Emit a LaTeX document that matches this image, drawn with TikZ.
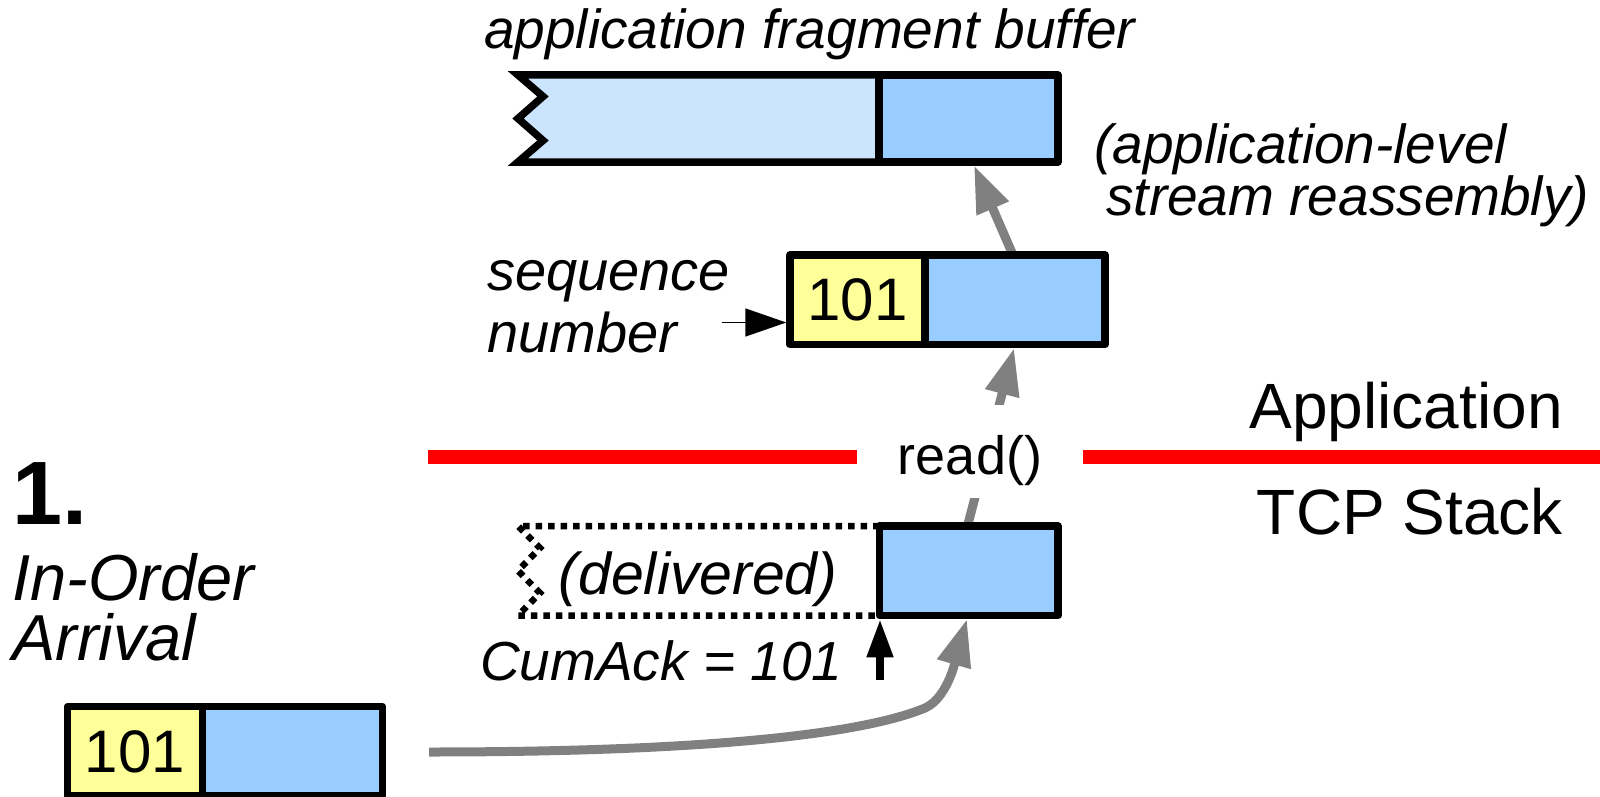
\documentclass[tikz,border=0pt]{standalone}
\usepackage{fontspec}
\setmainfont{Liberation Sans}
\usetikzlibrary{arrows.meta,backgrounds}
\definecolor{segyellow}{HTML}{FFFF99}
\definecolor{segblue}{HTML}{99CCFF}
\definecolor{buflight}{HTML}{CCE5FF}
\definecolor{arrowgray}{HTML}{808080}
\definecolor{layerred}{HTML}{FF0000}
\begin{document}
\begin{tikzpicture}[x=1pt,y=-1pt,
  cell/.style={draw=black,line width=7.5pt,line join=round,inner sep=0pt,outer sep=0pt,minimum height=89.5pt},
  seqcell/.style={cell,fill=segyellow,font=\fontsize{60}{72}\selectfont},
  datacell/.style={cell,fill=segblue},
  lbl/.style={inner sep=0pt,font=\fontsize{55}{62}\selectfont\itshape},
  bigl/.style={inner sep=0pt,font=\fontsize{64}{74}\selectfont},
  grayarrow/.style={draw=arrowgray,line width=9pt,-{Triangle[length=47pt,width=33pt]}},
  thinarrow/.style={draw=black,line width=1.5pt,-{Triangle[length=41pt,width=28pt]}},
  ackarrow/.style={draw=black,line width=7.5pt,-{Triangle[length=38pt,width=25pt]}},
  redline/.style={draw=layerred,line width=14pt},
  dots/.style={draw=black,line width=6.5pt,dash pattern=on 6.5pt off 6pt},
]
\useasboundingbox (0,0) rectangle (1600,797);

% top application fragment buffer
\node[datacell,minimum width=179pt,minimum height=87pt] (bufdata) at (968.5,118.5) {};
\node[lbl,anchor=base west] (buflabel) at (484,49) {application fragment buffer};
\node[lbl,font=\fontsize{55}{52}\selectfont\itshape,align=left,anchor=base west] (reasm) at (1094,215) {(application-level\\\hspace*{12pt}stream reassembly)};

% segment read by the application
\node[seqcell,minimum width=135pt] (seqtop) at (857.5,299.75) {101};
\node[datacell,minimum width=180pt] (datatop) at (1015,299.75) {};
\node[lbl,font=\fontsize{56}{62}\selectfont\itshape,align=left,anchor=base west] (seqlabel) at (487,352) {sequence\\number};
\coordinate (seqtail) at (722,322.5);

% layer boundary
\node[font=\fontsize{54}{62}\selectfont,fill=white,inner xsep=41pt,inner ysep=0pt,text height=69pt,text depth=24pt,anchor=base] (read) at (970,474) {read()};
\node[bigl,anchor=base east] (applbl) at (1563,428) {Application};
\node[bigl,anchor=base east] (tcplbl) at (1563,534) {TCP Stack};
\coordinate (redstart) at (428,457);
\coordinate (redend) at (1600,457);

% TCP receive buffer
\node[datacell,minimum width=178.5pt] (dbox) at (968.75,570.75) {};
\node[lbl,font=\fontsize{59}{62}\selectfont\itshape] (delivered) at (698,579) {(delivered)};
\node[lbl,anchor=base west] (cumack) at (480,680) {CumAck = 101};
\coordinate (acktail) at (880,680);

% arriving segment
\node[seqcell,minimum width=135pt] (seqbot) at (135,751.45) {101};
\node[datacell,minimum width=180pt] (databot) at (292.5,751.45) {};
\coordinate (curvetail) at (429,752);

\node[inner sep=0pt,font=\fontsize{90}{100}\selectfont\bfseries,anchor=base west] (num) at (12,524) {1.};
\node[inner sep=0pt,font=\fontsize{65}{60}\selectfont\itshape,align=left,anchor=base west] (inorder) at (12,660) {In-Order\\Arrival};

\begin{pgfonlayer}{background}
  \filldraw[fill=buflight,draw=black,line width=7.5pt,line join=miter]
    (bufdata.north west) -- (518,75) -- (543,96.5) -- (518,118.5) -- (543,140.5) -- (518,162) -- (bufdata.south west);
  \draw[dots] (dbox.north west) -- (518,526) -- (540,548) -- (518,570.75) -- (540,593) -- (518,615.5) -- (dbox.south west);
  \draw[redline] (redstart) -- (redend);
  \draw[thinarrow,shorten >=3.75pt] (seqtail) -- (seqtail -| seqtop.west);
  \draw[ackarrow,shorten >=3.75pt] (acktail) -- (acktail |- dbox.south);
  \draw[grayarrow,shorten >=3.75pt] (curvetail) .. controls (700,752) and (860,735) .. (925,708) .. controls (950,697) and (958,650) .. ([xshift=88.5pt]dbox.south west);
  \draw[grayarrow,shorten >=3.75pt] ([xshift=88pt]dbox.north west) -- ([xshift=90pt]datatop.south west);
  \draw[grayarrow,shorten >=3.75pt] ([xshift=88pt]datatop.north west) -- ([xshift=93.5pt]bufdata.south west);
\end{pgfonlayer}
\end{tikzpicture}
\end{document}
